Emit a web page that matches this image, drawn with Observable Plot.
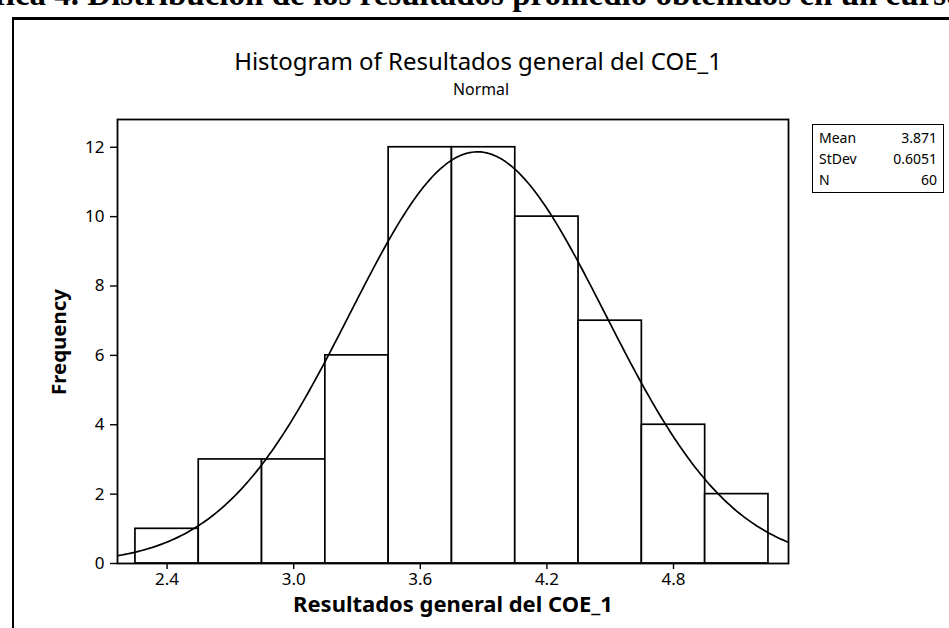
<!DOCTYPE html>
<html>
<head>
<meta charset="utf-8">
<script src="https://cdn.jsdelivr.net/npm/d3@7"></script>
<script src="https://cdn.jsdelivr.net/npm/@observablehq/plot@0.6"></script>
<style>
  html, body { margin: 0; padding: 0; background: #fff; }
  #wrap { position: relative; width: 949px; height: 628px; overflow: hidden; background: #fff; }
  #wrap svg { position: absolute; left: 0; top: 0; }
  .t { position: absolute; white-space: nowrap; color: #000; font-family: "Noto Sans", sans-serif; line-height: 1; }
</style>
</head>
<body>
<div id="wrap"></div>
<script>
// ---- data ----
const binLo = [2.25, 2.55, 2.85, 3.15, 3.45, 3.75, 4.05, 4.35, 4.65, 4.95];
const binHi = [2.55, 2.85, 3.15, 3.45, 3.75, 4.05, 4.35, 4.65, 4.95, 5.25];
const counts = [1, 3, 3, 6, 12, 12, 10, 7, 4, 2];
const xTicks = [2.4, 3.0, 3.6, 4.2, 4.8];
const yTicks = [0, 2, 4, 6, 8, 10, 12];
const statLabels = ["Mean", "StDev", "N"];
const statMean = 3.871;
const statStDev = 0.6051;
const statN = 60;
const xDomain = [2.165, 5.345];
const yDomain = [0, 12.8];

const bins = binLo.map((lo, i) => ({lo, hi: binHi[i], count: counts[i]}));
const binWidth = binHi[0] - binLo[0];
// fitted normal curve from the displayed statistics
const curve = d3.range(xDomain[0], xDomain[1] + 1e-9, 0.01).map(x => ({
  x,
  y: statN * binWidth * Math.exp(-0.5 * ((x - statMean) / statStDev) ** 2) / (statStDev * Math.sqrt(2 * Math.PI))
}));

const W = 949, H = 628;
const chart = Plot.plot({
  width: W, height: H,
  marginLeft: 117, marginRight: W - 788, marginTop: 119, marginBottom: H - 563,
  style: {fontFamily: "Noto Sans, sans-serif", fontSize: "17px", color: "#000", background: "transparent"},
  x: {domain: xDomain},
  y: {domain: yDomain},
  marks: [
    Plot.rect(bins, {x1: "lo", x2: "hi", y1: 0, y2: "count", fill: "#fff", stroke: "#000", strokeWidth: 1.7}),
    Plot.line(curve, {x: "x", y: "y", stroke: "#000", strokeWidth: 1.7, curve: "linear", clip: true}),
    Plot.frame({stroke: "#000", strokeWidth: 1.8}),
    Plot.axisX({ticks: xTicks, tickFormat: d3.format(".1f"), tickSize: 6, tickPadding: 3, label: null, fontSize: 17, strokeWidth: 1.4}),
    Plot.axisY({ticks: yTicks, tickSize: 7, tickPadding: 6, label: null, fontSize: 17, strokeWidth: 1.4})
  ]
});
const wrap = document.getElementById("wrap");
wrap.appendChild(chart);

const ctx = document.createElement("canvas").getContext("2d");
function fitSize(txt, weight, family, targetW) {
  ctx.font = `${weight} 100px ${family}`;
  return 100 * targetW / ctx.measureText(txt).width;
}
function addText(txt, css) {
  const d = document.createElement("div");
  d.className = "t";
  d.textContent = txt;
  Object.assign(d.style, css);
  wrap.appendChild(d);
  return d;
}
const SANS = '"Noto Sans"';

// clipped caption at the very top of the scanned page
const capTxt = "Gráfica 4. Distribución de los resultados promedio obtenidos en un curso";
addText(capTxt, {
  left: "-62px", top: "-22px", fontFamily: "Liberation Serif, serif", fontWeight: "bold", fontSize: "33px"
});
// outer border of the Minitab graph window
const border = document.createElement("div");
Object.assign(border.style, {position: "absolute", left: "12px", top: "17px", width: "1000px", height: "700px",
  borderLeft: "2px solid #000", borderTop: "3px solid #000"});
wrap.appendChild(border);

const title = "Histogram of Resultados general del COE_1";
addText(title, {left: "478px", top: "61px", transform: "translate(-50%,-50%)",
  fontSize: fitSize(title, "normal", SANS, 488) + "px"});
addText("Normal", {left: "481px", top: "90px", transform: "translate(-50%,-50%)",
  fontSize: fitSize("Normal", "normal", SANS, 56) + "px"});
const xl = "Resultados general del COE_1";
addText(xl, {left: "453px", top: "604px", transform: "translate(-50%,-50%)", fontWeight: "bold",
  fontSize: fitSize(xl, "bold", SANS, 320) + "px"});
addText("Frequency", {left: "58px", top: "342px", transform: "translate(-50%,-50%) rotate(-90deg)", fontWeight: "bold",
  fontSize: fitSize("Frequency", "bold", SANS, 106) + "px"});

// statistics box
const box = document.createElement("div");
Object.assign(box.style, {position: "absolute", left: "812px", top: "124px", width: "132px", height: "69px",
  border: "1.5px solid #000", fontFamily: "Noto Sans, sans-serif", fontSize: "14px", boxSizing: "border-box", padding: "2px 6px 0 6px"});
const statVals = [statMean.toFixed(3), statStDev.toFixed(4), String(statN)];
statLabels.forEach((k, i) => {
  const r = document.createElement("div");
  Object.assign(r.style, {display: "flex", justifyContent: "space-between", height: "21px", lineHeight: "21px"});
  const a = document.createElement("span"); a.textContent = k;
  const b = document.createElement("span"); b.textContent = statVals[i];
  r.appendChild(a); r.appendChild(b); box.appendChild(r);
});
wrap.appendChild(box);
</script>
</body>
</html>
